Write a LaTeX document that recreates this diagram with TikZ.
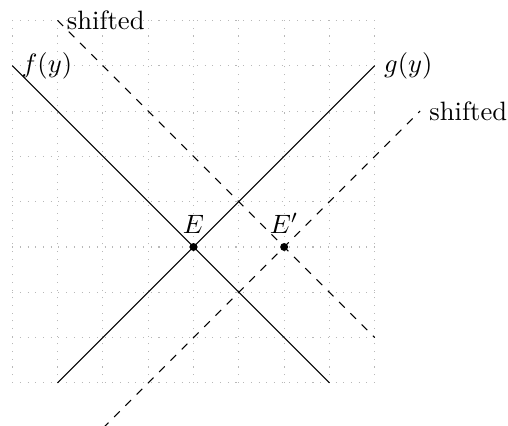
\documentclass[tikz,border=0pt]{standalone}
\usepackage{xcolor}
\usepackage{tikz}
\usetikzlibrary{positioning}
\definecolor{GridGray}{HTML}{B8B8B8}
\tikzset{
  gridline/.style={GridGray,line width=0.4pt,dash pattern=on 0.4pt off 2.5pt},
  shiftline/.style={dashed},
  eqdot/.style={circle,fill=black,inner sep=0pt,minimum size=3pt},
}

\begin{document}
\begin{tikzpicture}[scale=0.6]
  \useasboundingbox (-0.27,-0.93) rectangle (10.94,8.45);
  \draw[gridline] (0,0) grid (8,8);
  % end points of the curves
  \coordinate (fA) at (0,7);
  \coordinate (fB) at (7,0);
  \coordinate (gA) at (1,0);
  \coordinate (gB) at (8,7);
  \coordinate (fsA) at (1,8);
  \coordinate (fsB) at (8,1);
  \coordinate (gsA) at (2,-1);
  \coordinate (gsB) at (9,6);
  % curves
  \draw (fA) -- (fB);
  \draw (gA) -- (gB);
  \draw[shiftline] (fsA) -- (fsB);
  \draw[shiftline] (gsA) -- (gsB);
  \node[right] (flabel) at (fA) {$f(y)$};
  \node[right] (glabel) at (gB) {$g(y)$};
  \node[right] (fslabel) at (fsA) {shifted};
  \node[right] (gslabel) at (gsB) {shifted};
  % equilibria
  \node[eqdot] (E) at (4,3) {};
  \node[above=0pt of E] (Elabel) {$E$};
  \node[eqdot] (Es) at (6,3) {};
  \node[above=0pt of Es] (Eslabel) {$E'$};
\end{tikzpicture}
\end{document}
